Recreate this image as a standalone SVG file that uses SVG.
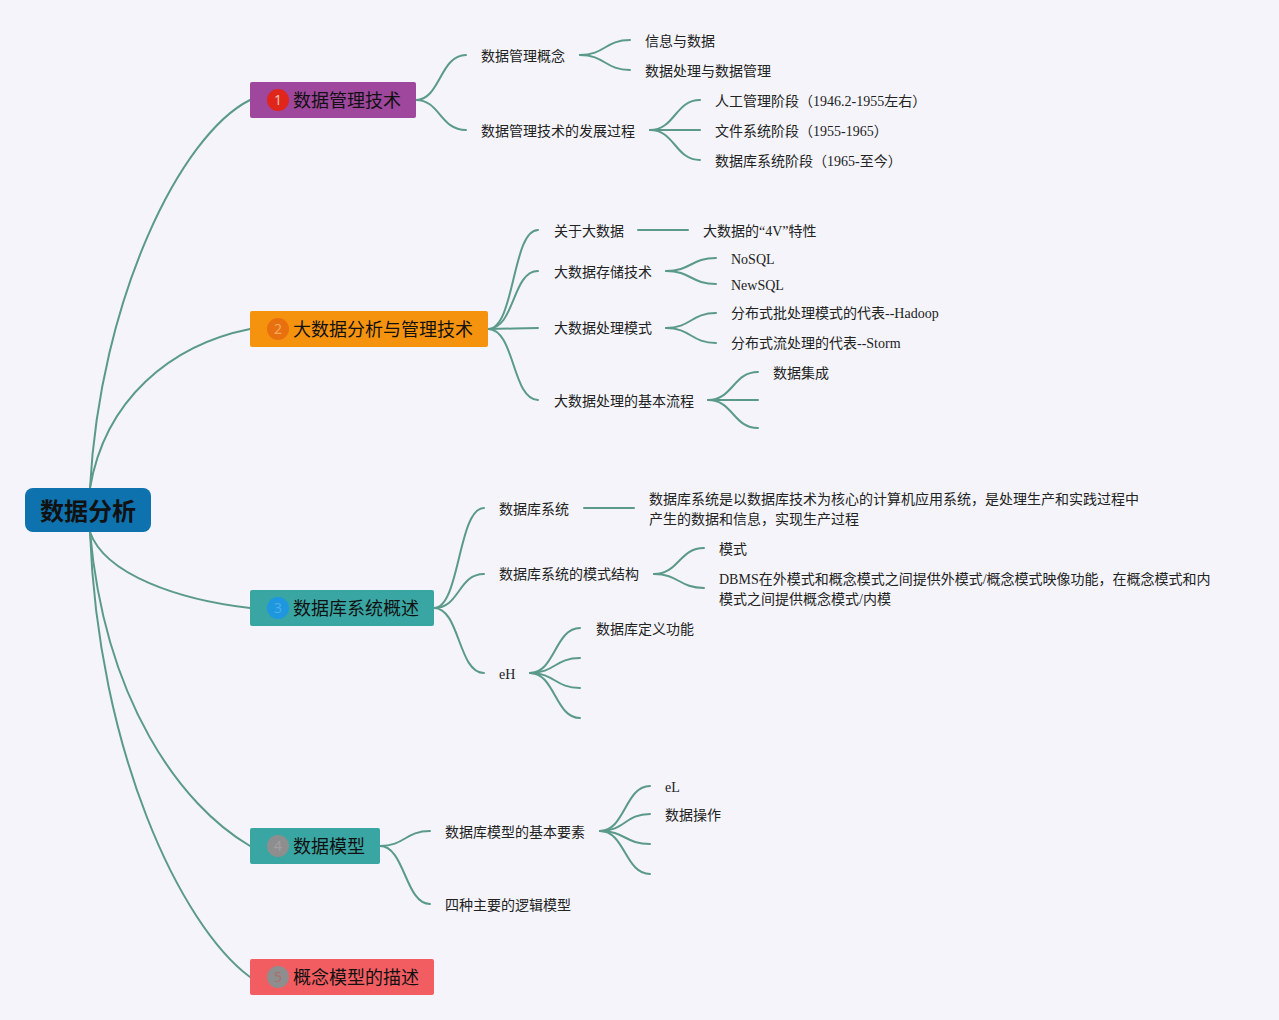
<svg xmlns="http://www.w3.org/2000/svg" width="1279" height="1020" viewBox="0 0 1279 1020">
<style>
.bg{fill:#f4f4fa}
.c{fill:none;stroke:#5b9a8a;stroke-width:2;stroke-linecap:round}
.t{font-family:"Liberation Serif","Noto Sans CJK SC",serif;font-size:14px;fill:#222}
.nt{font-family:"Noto Sans CJK SC","Noto Sans",sans-serif;font-size:18px;fill:#111}
.bn{font-family:"Noto Sans","Noto Sans CJK SC",sans-serif;font-size:14px;text-anchor:middle}
.root{font-family:"Noto Sans CJK SC",sans-serif;font-size:24px;font-weight:bold;fill:#111;text-anchor:middle}
</style>
<rect class="bg" x="0" y="0" width="1279" height="1020"/>
<g id="connectors">
<path class="c" d="M90,488 C100,300 180,135 250,100"/>
<path class="c" d="M90,488 C105,400 170,345 250,329"/>
<path class="c" d="M90,532 C105,575 180,600 250,608"/>
<path class="c" d="M90,532 C105,700 180,805 250,846"/>
<path class="c" d="M90,532 C98,750 180,925 250,977"/>
<!-- node 1 -->
<path class="c" d="M416,100 C440,100 440,55 466,55"/>
<path class="c" d="M416,100 C440,100 440,130 466,130"/>
<path class="c" d="M580,55 C605,55 605,40 630,40"/>
<path class="c" d="M580,55 C605,55 605,70 630,70"/>
<path class="c" d="M650,130 C675,130 675,100 700,100"/>
<path class="c" d="M650,130 L700,130"/>
<path class="c" d="M650,130 C675,130 675,160 700,160"/>
<!-- node 2 -->
<path class="c" d="M488,329 C515,329 512,230 538,230"/>
<path class="c" d="M488,329 C515,329 512,271 538,271"/>
<path class="c" d="M488,329 C512,329 515,328 538,328"/>
<path class="c" d="M488,329 C515,329 512,400 538,400"/>
<path class="c" d="M638,230 L688,230"/>
<path class="c" d="M666,271 C691,271 691,258 716,258"/>
<path class="c" d="M666,271 C691,271 691,284 716,284"/>
<path class="c" d="M666,328 C691,328 691,313 716,313"/>
<path class="c" d="M666,328 C691,328 691,343 716,343"/>
<path class="c" d="M708,400 C733,400 733,372 758,372"/>
<path class="c" d="M708,400 L758,400"/>
<path class="c" d="M708,400 C733,400 733,428 758,428"/>
<!-- node 3 -->
<path class="c" d="M434,608 C460,608 458,508 484,508"/>
<path class="c" d="M434,608 C460,608 458,574 484,574"/>
<path class="c" d="M434,608 C460,608 458,673 484,673"/>
<path class="c" d="M584,508 L634,508"/>
<path class="c" d="M654,574 C679,574 679,548 704,548"/>
<path class="c" d="M654,574 C679,574 679,588 704,588"/>
<path class="c" d="M530,673 C555,673 555,628 580,628"/>
<path class="c" d="M530,673 C555,673 555,658 580,658"/>
<path class="c" d="M530,673 C555,673 555,688 580,688"/>
<path class="c" d="M530,673 C555,673 555,718 580,718"/>
<!-- node 4 -->
<path class="c" d="M380,846 C405,846 405,831 430,831"/>
<path class="c" d="M380,846 C405,846 405,904 430,904"/>
<path class="c" d="M600,831 C625,831 625,786 650,786"/>
<path class="c" d="M600,831 C625,831 625,814 650,814"/>
<path class="c" d="M600,831 C625,831 625,844 650,844"/>
<path class="c" d="M600,831 C625,831 625,874 650,874"/>
</g>
<g id="root">
<rect x="25" y="488" width="126" height="44" rx="8" fill="#0d72ae"/>
<text class="root" x="88" y="520">数据分析</text>
</g>
<g id="n1">
<rect x="250" y="82" width="166" height="36" rx="2" fill="#9e479c"/>
<circle cx="278" cy="100" r="11" fill="#e0251b"/>
<text class="bn" x="278" y="105" fill="#f4c0b0">1</text>
<text class="nt" x="293" y="107">数据管理技术</text>
</g>
<g id="n2">
<rect x="250" y="311" width="238" height="36" rx="2" fill="#f5930f"/>
<circle cx="278" cy="329" r="11" fill="#e8700e"/>
<text class="bn" x="278" y="334" fill="#f6a860">2</text>
<text class="nt" x="293" y="336">大数据分析与管理技术</text>
</g>
<g id="n3">
<rect x="250" y="590" width="184" height="36" rx="2" fill="#39a6a3"/>
<circle cx="278" cy="608" r="11" fill="#1f97df"/>
<text class="bn" x="278" y="613" fill="#4aaee8">3</text>
<text class="nt" x="293" y="615">数据库系统概述</text>
</g>
<g id="n4">
<rect x="250" y="828" width="130" height="36" rx="2" fill="#39a6a3"/>
<circle cx="278" cy="846" r="11" fill="#8e8e8e"/>
<text class="bn" x="278" y="851" fill="#a0a0a0">4</text>
<text class="nt" x="293" y="853">数据模型</text>
</g>
<g id="n5">
<rect x="250" y="959" width="184" height="36" rx="2" fill="#f25d62"/>
<circle cx="278" cy="977" r="11" fill="#8e8e8e"/>
<text class="bn" x="278" y="982" fill="#a8706e">5</text>
<text class="nt" x="293" y="984">概念模型的描述</text>
</g>
<g id="n1-1"><text class="t" x="481" y="61">数据管理概念</text></g>
<g id="n1-1-1"><text class="t" x="645" y="46">信息与数据</text></g>
<g id="n1-1-2"><text class="t" x="645" y="76">数据处理与数据管理</text></g>
<g id="n1-2"><text class="t" x="481" y="136">数据管理技术的发展过程</text></g>
<g id="n1-2-1"><text class="t" x="715" y="106">人工管理阶段（1946.2-1955左右）</text></g>
<g id="n1-2-2"><text class="t" x="715" y="136">文件系统阶段（1955-1965）</text></g>
<g id="n1-2-3"><text class="t" x="715" y="166">数据库系统阶段（1965-至今）</text></g>
<g id="n2-1"><text class="t" x="554" y="236">关于大数据</text></g>
<g id="n2-1-1"><text class="t" x="703" y="236">大数据的“4V”特性</text></g>
<g id="n2-2"><text class="t" x="554" y="277">大数据存储技术</text></g>
<g id="n2-2-1"><text class="t" x="731" y="264">NoSQL</text></g>
<g id="n2-2-2"><text class="t" x="731" y="290">NewSQL</text></g>
<g id="n2-3"><text class="t" x="554" y="333">大数据处理模式</text></g>
<g id="n2-3-1"><text class="t" x="731" y="318">分布式批处理模式的代表--Hadoop</text></g>
<g id="n2-3-2"><text class="t" x="731" y="348">分布式流处理的代表--Storm</text></g>
<g id="n2-4"><text class="t" x="554" y="406">大数据处理的基本流程</text></g>
<g id="n2-4-1"><text class="t" x="773" y="378">数据集成</text></g>
<g id="n3-1"><text class="t" x="499" y="514">数据库系统</text></g>
<g id="n3-1-1"><text class="t" x="649" y="504">数据库系统是以数据库技术为核心的计算机应用系统，是处理生产和实践过程中</text><text class="t" x="649" y="524">产生的数据和信息，实现生产过程</text></g>
<g id="n3-2"><text class="t" x="499" y="579">数据库系统的模式结构</text></g>
<g id="n3-2-1"><text class="t" x="719" y="554">模式</text></g>
<g id="n3-2-2"><text class="t" x="719" y="584">DBMS在外模式和概念模式之间提供外模式/概念模式映像功能，在概念模式和内</text><text class="t" x="719" y="604">模式之间提供概念模式/内模</text></g>
<g id="n3-3"><text class="t" x="499" y="679">eH</text></g>
<g id="n3-3-1"><text class="t" x="596" y="634">数据库定义功能</text></g>
<g id="n4-1"><text class="t" x="445" y="837">数据库模型的基本要素</text></g>
<g id="n4-1-1"><text class="t" x="665" y="792">eL</text></g>
<g id="n4-1-2"><text class="t" x="665" y="820">数据操作</text></g>
<g id="n4-2"><text class="t" x="445" y="910">四种主要的逻辑模型</text></g>
</svg>
